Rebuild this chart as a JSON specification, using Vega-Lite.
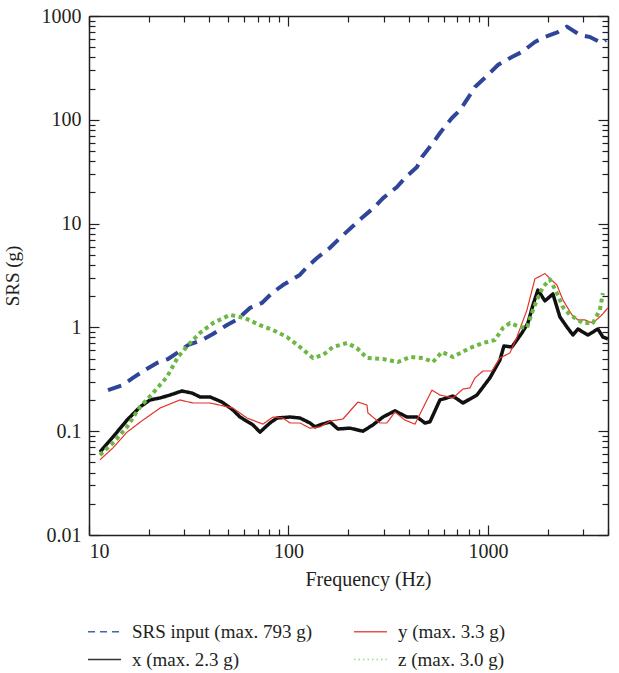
{
  "$schema": "https://vega.github.io/schema/vega-lite/v6.json",
  "width": 519,
  "height": 519,
  "autosize": {"type": "none"},
  "padding": {"left": 89, "top": 16, "right": 11, "bottom": 138},
  "background": "white",
  "config": {
    "view": {"stroke": null},
    "font": "Liberation Serif",
    "axis": {"labelFont": "Liberation Serif", "titleFont": "Liberation Serif", "labelColor": "#231f20", "titleColor": "#231f20", "domainColor": "#231f20", "tickColor": "#231f20", "labelFontSize": 20, "titleFontSize": 20, "titleFontWeight": "normal", "domainWidth": 1.5, "tickWidth": 1.2, "grid": false}
  },
  "datasets": {
    "srs": [
      {"s": "SRS input (max. 793 g)", "f": 12.45, "v": 0.249},
      {"s": "SRS input (max. 793 g)", "f": 14.8, "v": 0.279},
      {"s": "SRS input (max. 793 g)", "f": 16.6, "v": 0.326},
      {"s": "SRS input (max. 793 g)", "f": 19.1, "v": 0.389},
      {"s": "SRS input (max. 793 g)", "f": 21.9, "v": 0.454},
      {"s": "SRS input (max. 793 g)", "f": 24.9, "v": 0.496},
      {"s": "SRS input (max. 793 g)", "f": 28.6, "v": 0.593},
      {"s": "SRS input (max. 793 g)", "f": 31.4, "v": 0.677},
      {"s": "SRS input (max. 793 g)", "f": 36.9, "v": 0.757},
      {"s": "SRS input (max. 793 g)", "f": 41.8, "v": 0.864},
      {"s": "SRS input (max. 793 g)", "f": 49.2, "v": 1.055},
      {"s": "SRS input (max. 793 g)", "f": 55.8, "v": 1.205},
      {"s": "SRS input (max. 793 g)", "f": 64.1, "v": 1.54},
      {"s": "SRS input (max. 793 g)", "f": 73.6, "v": 1.72},
      {"s": "SRS input (max. 793 g)", "f": 82.7, "v": 2.14},
      {"s": "SRS input (max. 793 g)", "f": 93.8, "v": 2.56},
      {"s": "SRS input (max. 793 g)", "f": 114, "v": 3.2},
      {"s": "SRS input (max. 793 g)", "f": 124, "v": 3.82},
      {"s": "SRS input (max. 793 g)", "f": 139, "v": 4.66},
      {"s": "SRS input (max. 793 g)", "f": 161, "v": 5.82},
      {"s": "SRS input (max. 793 g)", "f": 181, "v": 7.26},
      {"s": "SRS input (max. 793 g)", "f": 208, "v": 9.27},
      {"s": "SRS input (max. 793 g)", "f": 233, "v": 11.3},
      {"s": "SRS input (max. 793 g)", "f": 271, "v": 14.5},
      {"s": "SRS input (max. 793 g)", "f": 298, "v": 17.6},
      {"s": "SRS input (max. 793 g)", "f": 350, "v": 22.5},
      {"s": "SRS input (max. 793 g)", "f": 384, "v": 27.5},
      {"s": "SRS input (max. 793 g)", "f": 441, "v": 35.1},
      {"s": "SRS input (max. 793 g)", "f": 467, "v": 43.8},
      {"s": "SRS input (max. 793 g)", "f": 530, "v": 59.8},
      {"s": "SRS input (max. 793 g)", "f": 575, "v": 74.6},
      {"s": "SRS input (max. 793 g)", "f": 660, "v": 104},
      {"s": "SRS input (max. 793 g)", "f": 724, "v": 124},
      {"s": "SRS input (max. 793 g)", "f": 812, "v": 173},
      {"s": "SRS input (max. 793 g)", "f": 861, "v": 207},
      {"s": "SRS input (max. 793 g)", "f": 1023, "v": 282},
      {"s": "SRS input (max. 793 g)", "f": 1122, "v": 337},
      {"s": "SRS input (max. 793 g)", "f": 1319, "v": 403},
      {"s": "SRS input (max. 793 g)", "f": 1480, "v": 450},
      {"s": "SRS input (max. 793 g)", "f": 1720, "v": 562},
      {"s": "SRS input (max. 793 g)", "f": 1931, "v": 628},
      {"s": "SRS input (max. 793 g)", "f": 2244, "v": 701},
      {"s": "SRS input (max. 793 g)", "f": 2489, "v": 790},
      {"s": "SRS input (max. 793 g)", "f": 2793, "v": 686},
      {"s": "SRS input (max. 793 g)", "f": 2891, "v": 656},
      {"s": "SRS input (max. 793 g)", "f": 3245, "v": 628},
      {"s": "SRS input (max. 793 g)", "f": 3728, "v": 549},
      {"s": "SRS input (max. 793 g)", "f": 3904, "v": 587},

      {"s": "x (max. 2.3 g)", "f": 11.35, "v": 0.063},
      {"s": "x (max. 2.3 g)", "f": 13.19, "v": 0.088},
      {"s": "x (max. 2.3 g)", "f": 15.51, "v": 0.128},
      {"s": "x (max. 2.3 g)", "f": 18.01, "v": 0.171},
      {"s": "x (max. 2.3 g)", "f": 20.22, "v": 0.2},
      {"s": "x (max. 2.3 g)", "f": 22.69, "v": 0.209},
      {"s": "x (max. 2.3 g)", "f": 25.47, "v": 0.223},
      {"s": "x (max. 2.3 g)", "f": 29.25, "v": 0.244},
      {"s": "x (max. 2.3 g)", "f": 32.83, "v": 0.233},
      {"s": "x (max. 2.3 g)", "f": 36.01, "v": 0.214},
      {"s": "x (max. 2.3 g)", "f": 40.42, "v": 0.214},
      {"s": "x (max. 2.3 g)", "f": 46.42, "v": 0.191},
      {"s": "x (max. 2.3 g)", "f": 52.69, "v": 0.16},
      {"s": "x (max. 2.3 g)", "f": 57.14, "v": 0.137},
      {"s": "x (max. 2.3 g)", "f": 66.37, "v": 0.115},
      {"s": "x (max. 2.3 g)", "f": 71.95, "v": 0.098},
      {"s": "x (max. 2.3 g)", "f": 80.79, "v": 0.12},
      {"s": "x (max. 2.3 g)", "f": 87.58, "v": 0.134},
      {"s": "x (max. 2.3 g)", "f": 101.7, "v": 0.137},
      {"s": "x (max. 2.3 g)", "f": 114.2, "v": 0.134},
      {"s": "x (max. 2.3 g)", "f": 128.2, "v": 0.12},
      {"s": "x (max. 2.3 g)", "f": 136, "v": 0.11},
      {"s": "x (max. 2.3 g)", "f": 143.8, "v": 0.115},
      {"s": "x (max. 2.3 g)", "f": 161.4, "v": 0.123},
      {"s": "x (max. 2.3 g)", "f": 177, "v": 0.105},
      {"s": "x (max. 2.3 g)", "f": 203.4, "v": 0.107},
      {"s": "x (max. 2.3 g)", "f": 236.3, "v": 0.1},
      {"s": "x (max. 2.3 g)", "f": 265.2, "v": 0.115},
      {"s": "x (max. 2.3 g)", "f": 297.6, "v": 0.137},
      {"s": "x (max. 2.3 g)", "f": 341.9, "v": 0.157},
      {"s": "x (max. 2.3 g)", "f": 392.6, "v": 0.137},
      {"s": "x (max. 2.3 g)", "f": 440.7, "v": 0.137},
      {"s": "x (max. 2.3 g)", "f": 483.4, "v": 0.12},
      {"s": "x (max. 2.3 g)", "f": 512.1, "v": 0.123},
      {"s": "x (max. 2.3 g)", "f": 574.7, "v": 0.2},
      {"s": "x (max. 2.3 g)", "f": 667.8, "v": 0.218},
      {"s": "x (max. 2.3 g)", "f": 749.5, "v": 0.187},
      {"s": "x (max. 2.3 g)", "f": 880.9, "v": 0.223},
      {"s": "x (max. 2.3 g)", "f": 1023, "v": 0.326},
      {"s": "x (max. 2.3 g)", "f": 1149, "v": 0.485},
      {"s": "x (max. 2.3 g)", "f": 1203, "v": 0.662},
      {"s": "x (max. 2.3 g)", "f": 1319, "v": 0.648},
      {"s": "x (max. 2.3 g)", "f": 1481, "v": 0.884},
      {"s": "x (max. 2.3 g)", "f": 1587, "v": 1.1},
      {"s": "x (max. 2.3 g)", "f": 1681, "v": 1.64},
      {"s": "x (max. 2.3 g)", "f": 1781, "v": 2.29},
      {"s": "x (max. 2.3 g)", "f": 1931, "v": 1.8},
      {"s": "x (max. 2.3 g)", "f": 2118, "v": 2.1},
      {"s": "x (max. 2.3 g)", "f": 2296, "v": 1.26},
      {"s": "x (max. 2.3 g)", "f": 2489, "v": 1.01},
      {"s": "x (max. 2.3 g)", "f": 2668, "v": 0.845},
      {"s": "x (max. 2.3 g)", "f": 2826, "v": 0.965},
      {"s": "x (max. 2.3 g)", "f": 3172, "v": 0.845},
      {"s": "x (max. 2.3 g)", "f": 3559, "v": 0.965},
      {"s": "x (max. 2.3 g)", "f": 3771, "v": 0.808},
      {"s": "x (max. 2.3 g)", "f": 3995, "v": 0.773},

      {"s": "y (max. 3.3 g)", "f": 11.35, "v": 0.053},
      {"s": "y (max. 3.3 g)", "f": 13.19, "v": 0.069},
      {"s": "y (max. 3.3 g)", "f": 15.51, "v": 0.098},
      {"s": "y (max. 3.3 g)", "f": 18.65, "v": 0.128},
      {"s": "y (max. 3.3 g)", "f": 22.69, "v": 0.167},
      {"s": "y (max. 3.3 g)", "f": 28.58, "v": 0.2},
      {"s": "y (max. 3.3 g)", "f": 33.21, "v": 0.187},
      {"s": "y (max. 3.3 g)", "f": 40.42, "v": 0.187},
      {"s": "y (max. 3.3 g)", "f": 52.69, "v": 0.167},
      {"s": "y (max. 3.3 g)", "f": 61.94, "v": 0.134},
      {"s": "y (max. 3.3 g)", "f": 74.49, "v": 0.117},
      {"s": "y (max. 3.3 g)", "f": 83.63, "v": 0.137},
      {"s": "y (max. 3.3 g)", "f": 93.85, "v": 0.134},
      {"s": "y (max. 3.3 g)", "f": 101.7, "v": 0.12},
      {"s": "y (max. 3.3 g)", "f": 114.2, "v": 0.12},
      {"s": "y (max. 3.3 g)", "f": 128.2, "v": 0.107},
      {"s": "y (max. 3.3 g)", "f": 143.8, "v": 0.11},
      {"s": "y (max. 3.3 g)", "f": 161.4, "v": 0.125},
      {"s": "y (max. 3.3 g)", "f": 187.6, "v": 0.131},
      {"s": "y (max. 3.3 g)", "f": 223, "v": 0.191},
      {"s": "y (max. 3.3 g)", "f": 247.5, "v": 0.179},
      {"s": "y (max. 3.3 g)", "f": 250.3, "v": 0.15},
      {"s": "y (max. 3.3 g)", "f": 287.4, "v": 0.12},
      {"s": "y (max. 3.3 g)", "f": 311.6, "v": 0.12},
      {"s": "y (max. 3.3 g)", "f": 341.9, "v": 0.153},
      {"s": "y (max. 3.3 g)", "f": 383.7, "v": 0.128},
      {"s": "y (max. 3.3 g)", "f": 430.7, "v": 0.117},
      {"s": "y (max. 3.3 g)", "f": 524.1, "v": 0.249},
      {"s": "y (max. 3.3 g)", "f": 574.7, "v": 0.223},
      {"s": "y (max. 3.3 g)", "f": 667.8, "v": 0.209},
      {"s": "y (max. 3.3 g)", "f": 749.5, "v": 0.255},
      {"s": "y (max. 3.3 g)", "f": 812.5, "v": 0.261},
      {"s": "y (max. 3.3 g)", "f": 860.7, "v": 0.326},
      {"s": "y (max. 3.3 g)", "f": 944.1, "v": 0.38},
      {"s": "y (max. 3.3 g)", "f": 1047, "v": 0.38},
      {"s": "y (max. 3.3 g)", "f": 1149, "v": 0.507},
      {"s": "y (max. 3.3 g)", "f": 1289, "v": 0.567},
      {"s": "y (max. 3.3 g)", "f": 1398, "v": 0.808},
      {"s": "y (max. 3.3 g)", "f": 1569, "v": 1.47},
      {"s": "y (max. 3.3 g)", "f": 1720, "v": 2.93},
      {"s": "y (max. 3.3 g)", "f": 1931, "v": 3.3},
      {"s": "y (max. 3.3 g)", "f": 2218, "v": 2.56},
      {"s": "y (max. 3.3 g)", "f": 2377, "v": 1.84},
      {"s": "y (max. 3.3 g)", "f": 2637, "v": 1.32},
      {"s": "y (max. 3.3 g)", "f": 2826, "v": 1.18},
      {"s": "y (max. 3.3 g)", "f": 3064, "v": 1.18},
      {"s": "y (max. 3.3 g)", "f": 3360, "v": 1.1},
      {"s": "y (max. 3.3 g)", "f": 3728, "v": 1.32},
      {"s": "y (max. 3.3 g)", "f": 3995, "v": 1.54},

      {"s": "z (max. 3.0 g)", "f": 11.35, "v": 0.059},
      {"s": "z (max. 3.0 g)", "f": 13.19, "v": 0.077},
      {"s": "z (max. 3.0 g)", "f": 15.51, "v": 0.11},
      {"s": "z (max. 3.0 g)", "f": 18.01, "v": 0.171},
      {"s": "z (max. 3.0 g)", "f": 20.93, "v": 0.233},
      {"s": "z (max. 3.0 g)", "f": 24.6, "v": 0.333},
      {"s": "z (max. 3.0 g)", "f": 27.93, "v": 0.519},
      {"s": "z (max. 3.0 g)", "f": 32.08, "v": 0.707},
      {"s": "z (max. 3.0 g)", "f": 36.01, "v": 0.884},
      {"s": "z (max. 3.0 g)", "f": 41.84, "v": 1.1},
      {"s": "z (max. 3.0 g)", "f": 50.9, "v": 1.32},
      {"s": "z (max. 3.0 g)", "f": 60.53, "v": 1.23},
      {"s": "z (max. 3.0 g)", "f": 71.95, "v": 1.05},
      {"s": "z (max. 3.0 g)", "f": 83.63, "v": 0.944},
      {"s": "z (max. 3.0 g)", "f": 98.28, "v": 0.808},
      {"s": "z (max. 3.0 g)", "f": 114.2, "v": 0.648},
      {"s": "z (max. 3.0 g)", "f": 132.7, "v": 0.507},
      {"s": "z (max. 3.0 g)", "f": 148.9, "v": 0.542},
      {"s": "z (max. 3.0 g)", "f": 167.1, "v": 0.648},
      {"s": "z (max. 3.0 g)", "f": 196.5, "v": 0.707},
      {"s": "z (max. 3.0 g)", "f": 220.4, "v": 0.633},
      {"s": "z (max. 3.0 g)", "f": 247.5, "v": 0.507},
      {"s": "z (max. 3.0 g)", "f": 297.6, "v": 0.496},
      {"s": "z (max. 3.0 g)", "f": 353.9, "v": 0.464},
      {"s": "z (max. 3.0 g)", "f": 406.4, "v": 0.519},
      {"s": "z (max. 3.0 g)", "f": 472.3, "v": 0.507},
      {"s": "z (max. 3.0 g)", "f": 530.2, "v": 0.464},
      {"s": "z (max. 3.0 g)", "f": 588.1, "v": 0.579},
      {"s": "z (max. 3.0 g)", "f": 667.8, "v": 0.519},
      {"s": "z (max. 3.0 g)", "f": 812.5, "v": 0.633},
      {"s": "z (max. 3.0 g)", "f": 944.1, "v": 0.707},
      {"s": "z (max. 3.0 g)", "f": 1084, "v": 0.756},
      {"s": "z (max. 3.0 g)", "f": 1189, "v": 0.987},
      {"s": "z (max. 3.0 g)", "f": 1289, "v": 1.1},
      {"s": "z (max. 3.0 g)", "f": 1447, "v": 1.01},
      {"s": "z (max. 3.0 g)", "f": 1569, "v": 0.987},
      {"s": "z (max. 3.0 g)", "f": 1662, "v": 1.38},
      {"s": "z (max. 3.0 g)", "f": 1760, "v": 1.84},
      {"s": "z (max. 3.0 g)", "f": 1887, "v": 2.45},
      {"s": "z (max. 3.0 g)", "f": 2046, "v": 2.9},
      {"s": "z (max. 3.0 g)", "f": 2218, "v": 2.14},
      {"s": "z (max. 3.0 g)", "f": 2377, "v": 1.57},
      {"s": "z (max. 3.0 g)", "f": 2577, "v": 1.32},
      {"s": "z (max. 3.0 g)", "f": 2994, "v": 1.1},
      {"s": "z (max. 3.0 g)", "f": 3360, "v": 1.1},
      {"s": "z (max. 3.0 g)", "f": 3642, "v": 1.47},
      {"s": "z (max. 3.0 g)", "f": 3771, "v": 2.14}
    ]
  },
  "data": {"name": "srs"},
  "layer": [
    {
      "mark": {"type": "line", "strokeCap": "butt", "strokeJoin": "round", "clip": true},
      "encoding": {
        "x": {"field": "f", "type": "quantitative",
          "scale": {"type": "log", "domain": [10, 4000], "nice": false},
          "axis": {"orient": "bottom", "title": "Frequency (Hz)", "titleX": 279, "titlePadding": 8, "labelPadding": 16,
            "labelFontSize": 20, "titleFontSize": 20,
            "values": [10,20,30,40,50,60,70,80,90,100,200,300,400,500,600,700,800,900,1000,2000,3000,4000],
            "labelExpr": "indexof([10,100,1000], datum.value) >= 0 ? datum.label : ''",
            "format": "d",
            "tickSize": {"condition": {"test": "indexof([10,100,1000], datum.value) >= 0", "value": -10}, "value": -6}}},
        "y": {"field": "v", "type": "quantitative",
          "scale": {"type": "log", "domain": [0.01, 1000], "nice": false},
          "axis": {"orient": "left", "title": "SRS (g)", "titlePadding": 19, "labelPadding": 18,
            "labelFontSize": 20, "titleFontSize": 19,
            "values": [0.01,0.02,0.03,0.04,0.05,0.06,0.07,0.08,0.09,0.1,0.2,0.3,0.4,0.5,0.6,0.7,0.8,0.9,1,2,3,4,5,6,7,8,9,10,20,30,40,50,60,70,80,90,100,200,300,400,500,600,700,800,900,1000],
            "format": "~g",
            "labelExpr": "indexof([0.01,0.1,1,10,100,1000], datum.value) >= 0 ? datum.label : ''",
            "tickSize": {"condition": {"test": "indexof([0.01,0.1,1,10,100,1000], datum.value) >= 0", "value": -10}, "value": -6}}},
        "color": {"field": "s", "type": "nominal",
          "scale": {"domain": ["SRS input (max. 793 g)", "x (max. 2.3 g)", "y (max. 3.3 g)", "z (max. 3.0 g)"],
                    "range": ["#2f4599", "#111111", "#e3342c", "#6db844"]},
          "legend": {"orient": "none", "legendX": -2, "legendY": 598, "direction": "vertical", "columns": 2, "columnPadding": 39, "rowPadding": -10,
            "title": null, "labelFont": "Liberation Serif", "labelFontSize": 19, "labelColor": "#231f20", "labelOffset": 10, "labelLimit": 400,
            "symbolType": "stroke", "symbolSize": 1089, "symbolStrokeWidth": 1.3,
            "encode": {"symbols": {"update": {
              "strokeDash": {"signal": "datum.value === 'SRS input (max. 793 g)' ? [7,5] : datum.value === 'z (max. 3.0 g)' ? [1.5,3] : [1,0]"},
              "strokeWidth": {"value": 1.3},
              "opacity": {"signal": "datum.value === 'z (max. 3.0 g)' ? 0.6 : 0.85"}}}}}},
        "strokeDash": {
          "condition": [
            {"test": "datum.s === 'SRS input (max. 793 g)'", "value": [14, 8]},
            {"test": "datum.s === 'z (max. 3.0 g)'", "value": [4, 3.5]}
          ],
          "value": [1, 0]},
        "strokeWidth": {
          "condition": [
            {"test": "datum.s === 'y (max. 3.3 g)'", "value": 1.2},
            {"test": "datum.s === 'x (max. 2.3 g)'", "value": 3.5}
          ],
          "value": 4}
      }
    },
    {
      "mark": {"type": "point", "opacity": 0},
      "encoding": {
        "x": {"field": "f", "type": "quantitative",
          "axis": {"orient": "top", "title": null, "labels": false,
            "values": [10,20,30,40,50,60,70,80,90,100,200,300,400,500,600,700,800,900,1000,2000,3000,4000],
            "tickSize": {"condition": {"test": "indexof([10,100,1000], datum.value) >= 0", "value": -10}, "value": -6}}},
        "y": {"field": "v", "type": "quantitative",
          "axis": {"orient": "right", "title": null, "labels": false,
            "values": [0.01,0.02,0.03,0.04,0.05,0.06,0.07,0.08,0.09,0.1,0.2,0.3,0.4,0.5,0.6,0.7,0.8,0.9,1,2,3,4,5,6,7,8,9,10,20,30,40,50,60,70,80,90,100,200,300,400,500,600,700,800,900,1000],
            "tickSize": {"condition": {"test": "indexof([0.01,0.1,1,10,100,1000], datum.value) >= 0", "value": -10}, "value": -6}}}
      }
    }
  ],
  "resolve": {"axis": {"x": "independent", "y": "independent"}}
}
